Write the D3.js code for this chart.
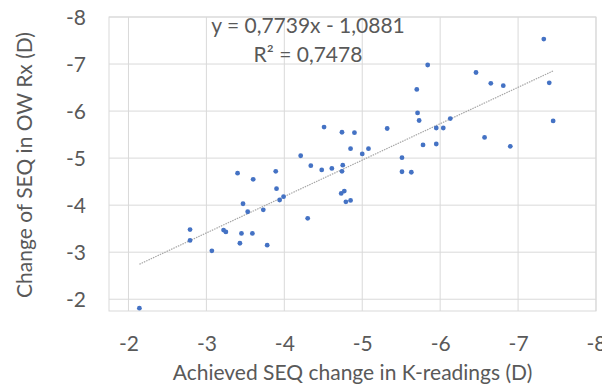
<!DOCTYPE html>
<html><head><meta charset="utf-8">
<script src="https://cdn.jsdelivr.net/npm/d3@7"></script>
<style>body{margin:0;background:#fff}svg{display:block}</style>
</head><body>
<svg id="c" width="602" height="385"></svg>
<script>
const xValues = [-2.14,-2.79,-2.79,-3.07,-3.22,-3.25,-3.40,-3.43,-3.45,-3.59,-3.47,-3.53,-3.73,-3.78,-3.90,-3.94,-3.99,-3.60,-3.89,-4.21,-4.30,-4.34,-4.51,-4.48,-4.61,-4.74,-4.90,-4.85,-4.75,-4.74,-4.73,-4.77,-4.79,-4.85,-5.00,-5.08,-5.32,-5.51,-5.51,-5.63,-5.70,-5.71,-5.73,-5.84,-5.78,-5.95,-5.95,-6.04,-6.13,-6.46,-6.65,-6.81,-7.33,-7.40,-7.45,-6.57,-6.90];
const yValues = [-1.81,-3.48,-3.25,-3.03,-3.47,-3.43,-4.68,-3.19,-3.40,-3.40,-4.03,-3.86,-3.90,-3.15,-4.35,-4.11,-4.18,-4.55,-4.72,-5.05,-3.72,-4.84,-5.66,-4.75,-4.78,-5.55,-5.54,-5.20,-4.85,-4.72,-4.25,-4.30,-4.07,-4.10,-5.09,-5.20,-5.63,-5.01,-4.71,-4.70,-6.46,-5.96,-5.80,-6.98,-5.28,-5.30,-5.64,-5.64,-5.84,-6.82,-6.59,-6.54,-7.53,-6.60,-5.79,-5.44,-5.25];
const xTicks = [-2,-3,-4,-5,-6,-7,-8];
const yTicks = [-2,-3,-4,-5,-6,-7,-8];
const trendSlope = 0.7739;
const trendIntercept = -1.0881;
const equationText = "y = 0,7739x - 1,0881";
const r2Text = "R² = 0,7478";
const xTitle = "Achieved SEQ change in K-readings (D)";
const yTitle = "Change of SEQ in OW Rx (D)";

const svg = d3.select("#c");
const font = "Lato, 'Open Sans', sans-serif";
const fs = 21;
const txt = "#595959";
const x = d3.scaleLinear().domain([-1.75,-8]).range([109,596]);
const y = d3.scaleLinear().domain([-1.75,-8]).range([311,17]);

// gridlines
svg.append("g").selectAll("line").data(xTicks).join("line")
  .attr("x1", d=>x(d)).attr("x2", d=>x(d)).attr("y1", y(-1.75)).attr("y2", y(-8))
  .attr("stroke", "#d9d9d9").attr("stroke-width", 1);
svg.append("g").selectAll("line").data(yTicks).join("line")
  .attr("y1", d=>y(d)).attr("y2", d=>y(d)).attr("x1", x(-1.75)).attr("x2", x(-8))
  .attr("stroke", "#d9d9d9").attr("stroke-width", 1);
svg.append("rect").attr("x", x(-1.75)).attr("y", y(-8))
  .attr("width", x(-8)-x(-1.75)).attr("height", y(-1.75)-y(-8))
  .attr("fill","none").attr("stroke","#d9d9d9").attr("stroke-width",1);

// axes (labels only)
const fmt = d=>d3.format("d")(d).replace("−","-");
const xAxis = d3.axisBottom(x).tickValues(xTicks).tickSize(0).tickPadding(0).tickFormat(fmt);
const gx = svg.append("g").attr("transform", "translate(0,336)").call(xAxis);
gx.select(".domain").remove();
gx.selectAll("text").attr("font-family", font).attr("font-size", fs).attr("fill", txt).attr("dy","0.71em");

const yAxis = d3.axisLeft(y).tickValues(yTicks).tickSize(0).tickPadding(0).tickFormat(fmt);
const gy = svg.append("g").attr("transform", "translate(86,0)").call(yAxis);
gy.select(".domain").remove();
gy.selectAll("text").attr("font-family", font).attr("font-size", fs).attr("fill", txt).attr("dy","0.36em");

// trendline
const xMin = d3.max(xValues), xMax = d3.min(xValues);
svg.append("line")
  .attr("x1", x(xMin)).attr("y1", y(trendSlope*xMin+trendIntercept))
  .attr("x2", x(xMax)).attr("y2", y(trendSlope*xMax+trendIntercept))
  .attr("stroke", "#a6a6a6").attr("stroke-width", 1.2).attr("stroke-dasharray", "1.5,1");

// points
svg.append("g").selectAll("circle").data(xValues.map((v,i)=>[v,yValues[i]])).join("circle")
  .attr("cx", d=>x(d[0])).attr("cy", d=>y(d[1])).attr("r", 2.4).attr("fill", "#4472c4");

// equation
svg.append("text").attr("x", 308).attr("y", 33).attr("text-anchor","middle")
  .attr("font-family", font).attr("font-size", fs).attr("fill", txt).text(equationText);
svg.append("text").attr("x", 308).attr("y", 62).attr("text-anchor","middle")
  .attr("font-family", font).attr("font-size", fs).attr("fill", txt).text(r2Text);

// titles
svg.append("text").attr("x", (x(-1.75)+x(-8))/2).attr("y", 380).attr("text-anchor","middle")
  .attr("font-family", font).attr("font-size", fs).attr("fill", txt).text(xTitle);
svg.append("text").attr("transform", "translate(32,165) rotate(-90)").attr("text-anchor","middle")
  .attr("font-family", font).attr("font-size", fs).attr("fill", txt).text(yTitle);
</script>
</body></html>
